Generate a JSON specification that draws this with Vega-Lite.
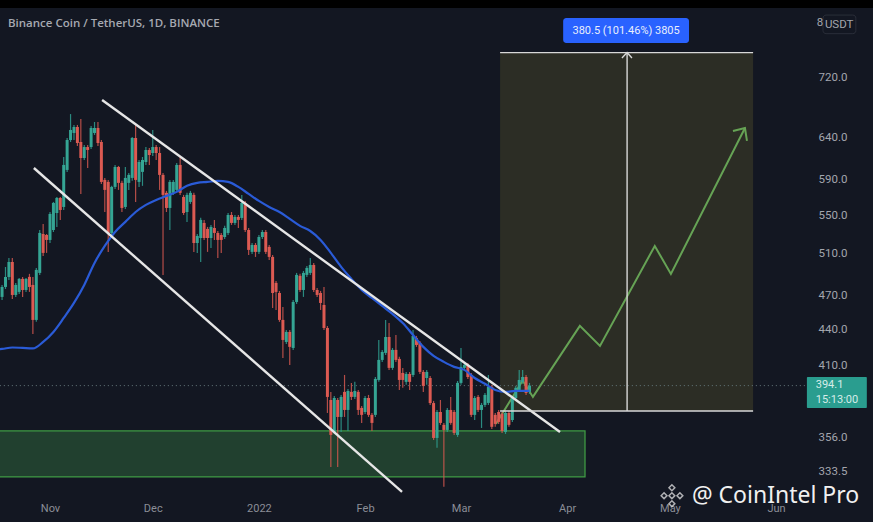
{"$schema":"https://vega.github.io/schema/vega-lite/v6.json","width":873,"height":522,"padding":0,"autosize":{"type":"fit","contains":"padding"},"background":"#131722","title":{"text":"Binance Coin / TetherUS, 1D, BINANCE","anchor":"start","frame":"group","offset":-29,"dx":8,"font":"Open Sans","fontSize":11.5,"fontWeight":600,"color":"#a6a9b1"},"config":{"view":{"stroke":null},"axis":{"grid":false,"domain":false,"ticks":false,"title":null}},
"datasets":{
"candles":[
{"date":"2021-10-18","open":468.7,"high":479.8,"low":465.9,"close":477.9},
{"date":"2021-10-19","open":477.9,"high":496.9,"low":476,"close":487.3},
{"date":"2021-10-20","open":487.4,"high":505.8,"low":484.5,"close":501.8},
{"date":"2021-10-21","open":501.8,"high":505.8,"low":466.8,"close":470.5},
{"date":"2021-10-22","open":470.5,"high":481.7,"low":468.7,"close":479.8},
{"date":"2021-10-23","open":473.3,"high":486.4,"low":471.4,"close":485.5},
{"date":"2021-10-24","open":485.5,"high":487.4,"low":468.7,"close":475.1},
{"date":"2021-10-25","open":475.1,"high":486.4,"low":473.3,"close":485.5},
{"date":"2021-10-26","open":487.4,"high":490.3,"low":473.3,"close":477.9},
{"date":"2021-10-27","open":479.8,"high":487.4,"low":436,"close":448.1},
{"date":"2021-10-28","open":448.1,"high":496,"low":446.4,"close":494.1},
{"date":"2021-10-29","open":491.2,"high":534.2,"low":489.3,"close":531.1},
{"date":"2021-10-30","open":530,"high":540.6,"low":507.8,"close":510.8},
{"date":"2021-10-31","open":529,"high":530,"low":510.8,"close":523.9},
{"date":"2021-11-01","open":523.9,"high":553.3,"low":520.8,"close":551.2},
{"date":"2021-11-02","open":534.2,"high":564.3,"low":532.1,"close":563.2},
{"date":"2021-11-03","open":552.2,"high":569.8,"low":537.4,"close":568.7},
{"date":"2021-11-04","open":568.7,"high":569.8,"low":544.8,"close":555.5},
{"date":"2021-11-05","open":558.8,"high":616.1,"low":555.5,"close":606.6},
{"date":"2021-11-06","open":600.7,"high":639.4,"low":598.4,"close":636.9},
{"date":"2021-11-07","open":636.9,"high":670,"low":634.4,"close":649.5},
{"date":"2021-11-08","open":645.7,"high":655.9,"low":636.9,"close":653.3},
{"date":"2021-11-09","open":653.3,"high":655.9,"low":629.5,"close":633.2},
{"date":"2021-11-10","open":634.4,"high":663.6,"low":573.2,"close":614.9},
{"date":"2021-11-11","open":614.9,"high":630.7,"low":612.5,"close":628.2},
{"date":"2021-11-12","open":628.2,"high":630.7,"low":603,"close":624.6},
{"date":"2021-11-13","open":628.2,"high":654.6,"low":625.8,"close":652},
{"date":"2021-11-14","open":645.7,"high":659.7,"low":643.2,"close":652},
{"date":"2021-11-15","open":652,"high":659.7,"low":629.5,"close":633.2},
{"date":"2021-11-16","open":634.4,"high":636.9,"low":584.5,"close":586.8},
{"date":"2021-11-17","open":589.1,"high":591.4,"low":553.3,"close":577.7},
{"date":"2021-11-18","open":586.8,"high":589.1,"low":511.8,"close":531.1},
{"date":"2021-11-19","open":531.1,"high":582.3,"low":529,"close":581.1},
{"date":"2021-11-20","open":581.1,"high":606.6,"low":578.8,"close":604.2},
{"date":"2021-11-21","open":604.2,"high":605.4,"low":577.7,"close":585.7},
{"date":"2021-11-22","open":585.7,"high":588,"low":553.3,"close":557.7},
{"date":"2021-11-23","open":558.8,"high":604.2,"low":556.6,"close":591.4},
{"date":"2021-11-24","open":585.7,"high":597.2,"low":577.7,"close":594.9},
{"date":"2021-11-25","open":591.4,"high":640.7,"low":588,"close":639.4},
{"date":"2021-11-26","open":639.4,"high":657.2,"low":564.3,"close":589.1},
{"date":"2021-11-27","open":586.8,"high":612.5,"low":581.1,"close":610.1},
{"date":"2021-11-28","open":598.4,"high":616.1,"low":582.3,"close":612.5},
{"date":"2021-11-29","open":610.1,"high":628.2,"low":606.6,"close":624.6},
{"date":"2021-11-30","open":624.6,"high":627,"low":606.6,"close":618.5},
{"date":"2021-12-01","open":620.9,"high":649.5,"low":617.3,"close":628.2},
{"date":"2021-12-02","open":628.2,"high":630.7,"low":612.5,"close":620.9},
{"date":"2021-12-03","open":620.9,"high":628.2,"low":577.7,"close":594.9},
{"date":"2021-12-04","open":594.9,"high":597.2,"low":489.3,"close":572.1},
{"date":"2021-12-05","open":574.4,"high":576.6,"low":553.3,"close":557.7},
{"date":"2021-12-06","open":557.7,"high":589.1,"low":534.2,"close":586.8},
{"date":"2021-12-07","open":574.4,"high":589.1,"low":572.1,"close":586.8},
{"date":"2021-12-08","open":577.7,"high":609,"low":575.5,"close":606.6},
{"date":"2021-12-09","open":606.6,"high":616.1,"low":572.1,"close":574.4},
{"date":"2021-12-10","open":569.8,"high":572.1,"low":550.1,"close":552.2},
{"date":"2021-12-11","open":553.3,"high":574.4,"low":542.7,"close":572.1},
{"date":"2021-12-12","open":564.3,"high":576.6,"low":562.1,"close":574.4},
{"date":"2021-12-13","open":572.1,"high":574.4,"low":511.8,"close":520.8},
{"date":"2021-12-14","open":520.8,"high":530,"low":510.8,"close":528},
{"date":"2021-12-15","open":525.9,"high":547,"low":501.8,"close":544.8},
{"date":"2021-12-16","open":541.6,"high":544.8,"low":523.9,"close":525.9},
{"date":"2021-12-17","open":535.3,"high":537.4,"low":511.8,"close":525.9},
{"date":"2021-12-18","open":525.9,"high":539.5,"low":515.8,"close":537.4},
{"date":"2021-12-19","open":536.3,"high":544.8,"low":523.9,"close":531.1},
{"date":"2021-12-20","open":531.1,"high":533.1,"low":505.8,"close":523.9},
{"date":"2021-12-21","open":529,"high":531.1,"low":510.8,"close":523.9},
{"date":"2021-12-22","open":526.9,"high":538.5,"low":524.9,"close":536.3},
{"date":"2021-12-23","open":531.1,"high":552.2,"low":529,"close":550.1},
{"date":"2021-12-24","open":550.1,"high":553.3,"low":539.5,"close":541.6},
{"date":"2021-12-25","open":541.6,"high":550.1,"low":539.5,"close":548},
{"date":"2021-12-26","open":548,"high":550.1,"low":536.3,"close":544.8},
{"date":"2021-12-27","open":546.9,"high":572.1,"low":544.8,"close":563.2},
{"date":"2021-12-28","open":563.2,"high":565.4,"low":532.1,"close":534.2},
{"date":"2021-12-29","open":534.2,"high":536.3,"low":508.8,"close":513.8},
{"date":"2021-12-30","open":511.8,"high":520.8,"low":509.8,"close":518.8},
{"date":"2021-12-31","open":518.8,"high":520.8,"low":506.8,"close":511.8},
{"date":"2022-01-01","open":511.8,"high":529,"low":509.8,"close":526.9},
{"date":"2022-01-02","open":526.9,"high":534.2,"low":524.9,"close":532.1},
{"date":"2022-01-03","open":532.1,"high":534.2,"low":509.8,"close":511.8},
{"date":"2022-01-04","open":516.8,"high":518.8,"low":503.8,"close":506.8},
{"date":"2022-01-05","open":506.8,"high":508.8,"low":458.7,"close":472.3},
{"date":"2022-01-06","open":481.7,"high":483.6,"low":456.9,"close":473.3},
{"date":"2022-01-07","open":472.3,"high":474.2,"low":446.4,"close":448.1},
{"date":"2022-01-08","open":448.1,"high":459.6,"low":416,"close":430.9},
{"date":"2022-01-09","open":429.2,"high":439.4,"low":427.5,"close":437.7},
{"date":"2022-01-10","open":437.7,"high":439.4,"low":410.4,"close":425.1},
{"date":"2022-01-11","open":424.2,"high":465.9,"low":422.6,"close":464.1},
{"date":"2022-01-12","open":464.1,"high":491.2,"low":462.3,"close":489.3},
{"date":"2022-01-13","open":488.4,"high":490.3,"low":473.3,"close":475.1},
{"date":"2022-01-14","open":475.1,"high":493.1,"low":468.7,"close":491.2},
{"date":"2022-01-15","open":489.3,"high":497.9,"low":487.4,"close":496},
{"date":"2022-01-16","open":491.2,"high":505.8,"low":489.3,"close":498.9},
{"date":"2022-01-17","open":498.9,"high":500.9,"low":473.3,"close":475.1},
{"date":"2022-01-18","open":475.1,"high":477,"low":468.7,"close":470.5},
{"date":"2022-01-19","open":472.3,"high":474.2,"low":456.9,"close":463.2},
{"date":"2022-01-20","open":461.4,"high":477.9,"low":439.4,"close":441.1},
{"date":"2022-01-21","open":441.1,"high":442.8,"low":373.6,"close":385.5},
{"date":"2022-01-22","open":383.2,"high":389.3,"low":336.2,"close":357.9},
{"date":"2022-01-23","open":360,"high":386.2,"low":358.6,"close":384.7},
{"date":"2022-01-24","open":383.2,"high":384.7,"low":336.2,"close":370.7},
{"date":"2022-01-25","open":370.7,"high":387,"low":360,"close":385.5},
{"date":"2022-01-26","open":389.3,"high":402.4,"low":370.7,"close":375.8},
{"date":"2022-01-27","open":375.8,"high":391.6,"low":360.7,"close":390},
{"date":"2022-01-28","open":389.3,"high":396.2,"low":383.2,"close":385.5},
{"date":"2022-01-29","open":385.5,"high":397,"low":384,"close":390},
{"date":"2022-01-30","open":389.3,"high":390.8,"low":372.2,"close":375.8},
{"date":"2022-01-31","open":377.3,"high":378.8,"low":366.4,"close":372.2},
{"date":"2022-02-01","open":374.3,"high":386.2,"low":372.9,"close":384.7},
{"date":"2022-02-02","open":384.7,"high":387,"low":370.7,"close":372.2},
{"date":"2022-02-03","open":372.2,"high":373.6,"low":360.7,"close":366.4},
{"date":"2022-02-04","open":372.2,"high":400.8,"low":370.7,"close":399.3},
{"date":"2022-02-05","open":398.5,"high":430.9,"low":397,"close":414.4},
{"date":"2022-02-06","open":414.4,"high":422.6,"low":412.8,"close":420.9},
{"date":"2022-02-07","open":420.1,"high":448.1,"low":418.5,"close":433.4},
{"date":"2022-02-08","open":433.4,"high":445.4,"low":406.4,"close":408},
{"date":"2022-02-09","open":408,"high":424.2,"low":406.4,"close":422.6},
{"date":"2022-02-10","open":422.6,"high":435.1,"low":412.8,"close":414.4},
{"date":"2022-02-11","open":415.2,"high":416.9,"low":390.8,"close":398.5},
{"date":"2022-02-12","open":404,"high":408,"low":392.4,"close":398.5},
{"date":"2022-02-13","open":397,"high":404.8,"low":394.7,"close":403.2},
{"date":"2022-02-14","open":403.2,"high":404.8,"low":390.8,"close":397},
{"date":"2022-02-15","open":402.4,"high":439.4,"low":400.8,"close":434.3},
{"date":"2022-02-16","open":432.6,"high":434.3,"low":425.1,"close":426.7},
{"date":"2022-02-17","open":428.4,"high":430.1,"low":403.2,"close":404.8},
{"date":"2022-02-18","open":404.8,"high":406.4,"low":389.3,"close":393.9},
{"date":"2022-02-19","open":400,"high":406.4,"low":394.7,"close":404.8},
{"date":"2022-02-20","open":400,"high":401.6,"low":379.5,"close":380.9},
{"date":"2022-02-21","open":380.9,"high":382.5,"low":354.4,"close":355.8},
{"date":"2022-02-22","open":355.8,"high":375.8,"low":349,"close":374.3},
{"date":"2022-02-23","open":374.3,"high":383.2,"low":365,"close":366.4},
{"date":"2022-02-24","open":365,"high":366.4,"low":323.5,"close":361.4},
{"date":"2022-02-25","open":361.4,"high":377.3,"low":360,"close":375.8},
{"date":"2022-02-26","open":375.8,"high":385.5,"low":365,"close":366.4},
{"date":"2022-02-27","open":374.3,"high":375.8,"low":357.9,"close":359.3},
{"date":"2022-02-28","open":357.9,"high":397.7,"low":356.5,"close":396.2},
{"date":"2022-03-01","open":396.2,"high":424.2,"low":394.7,"close":408.8},
{"date":"2022-03-02","open":408,"high":412,"low":406.4,"close":410.4},
{"date":"2022-03-03","open":410.4,"high":412,"low":399.3,"close":400.8},
{"date":"2022-03-04","open":402.4,"high":404,"low":370.7,"close":372.2},
{"date":"2022-03-05","open":372.2,"high":386.2,"low":368.5,"close":384.7},
{"date":"2022-03-06","open":385.5,"high":387,"low":374.3,"close":375.8},
{"date":"2022-03-07","open":375.8,"high":381,"low":362.8,"close":379.5},
{"date":"2022-03-08","open":379.5,"high":388.5,"low":378,"close":387},
{"date":"2022-03-09","open":381,"high":402.4,"low":379.5,"close":393.2},
{"date":"2022-03-10","open":393.2,"high":394.7,"low":362,"close":363.6},
{"date":"2022-03-11","open":372.2,"high":373.6,"low":363.6,"close":365.7},
{"date":"2022-03-12","open":374.3,"high":375.8,"low":365.7,"close":367.1},
{"date":"2022-03-13","open":372.9,"high":374.3,"low":359.3,"close":360.7},
{"date":"2022-03-14","open":360,"high":375,"low":358.6,"close":373.6},
{"date":"2022-03-15","open":373.6,"high":375,"low":363.6,"close":365},
{"date":"2022-03-16","open":368.5,"high":386.2,"low":367.1,"close":384.7},
{"date":"2022-03-17","open":384.7,"high":393.9,"low":383.2,"close":392.4},
{"date":"2022-03-18","open":390.8,"high":406.4,"low":389.3,"close":398.5},
{"date":"2022-03-19","open":397,"high":406.4,"low":395.5,"close":400.8},
{"date":"2022-03-20","open":400.8,"high":402.4,"low":387,"close":388.5},
{"date":"2022-03-21","open":389.3,"high":396.2,"low":387.8,"close":394.1}
],
"ma":[
{"date":"2021-10-15","price":423},{"date":"2021-10-18","price":423.4},{"date":"2021-10-21","price":424.6},{"date":"2021-10-24","price":424.2},{"date":"2021-10-27","price":423.8},{"date":"2021-10-30","price":429.2},{"date":"2021-11-02","price":437.7},{"date":"2021-11-05","price":449.8},{"date":"2021-11-08","price":463.2},{"date":"2021-11-11","price":479.8},{"date":"2021-11-14","price":500.9},{"date":"2021-11-17","price":517.8},{"date":"2021-11-20","price":532.1},{"date":"2021-11-23","price":542.7},{"date":"2021-11-26","price":553.3},{"date":"2021-11-29","price":561},{"date":"2021-12-02","price":566.5},{"date":"2021-12-05","price":571},{"date":"2021-12-08","price":575.5},{"date":"2021-12-11","price":582.3},{"date":"2021-12-14","price":585.7},{"date":"2021-12-17","price":586.8},{"date":"2021-12-20","price":588},{"date":"2021-12-23","price":586.8},{"date":"2021-12-26","price":581.1},{"date":"2021-12-29","price":573.2},{"date":"2022-01-01","price":565.4},{"date":"2022-01-04","price":558.8},{"date":"2022-01-07","price":553.3},{"date":"2022-01-10","price":545.9},{"date":"2022-01-13","price":538.5},{"date":"2022-01-16","price":533.1},{"date":"2022-01-19","price":523.9},{"date":"2022-01-22","price":510.8},{"date":"2022-01-25","price":497},{"date":"2022-01-28","price":485.5},{"date":"2022-01-31","price":475.1},{"date":"2022-02-03","price":467.7},{"date":"2022-02-06","price":460.5},{"date":"2022-02-09","price":453.4},{"date":"2022-02-12","price":445.4},{"date":"2022-02-15","price":435.1},{"date":"2022-02-18","price":425.1},{"date":"2022-02-21","price":417.7},{"date":"2022-02-24","price":412.8},{"date":"2022-02-27","price":408.8},{"date":"2022-03-02","price":406.4},{"date":"2022-03-05","price":400},{"date":"2022-03-08","price":395.5},{"date":"2022-03-11","price":390.8},{"date":"2022-03-14","price":389.3},{"date":"2022-03-17","price":390},{"date":"2022-03-21","price":390}
],
"channel":[
{"id":"upper","date":"2021-11-16T05:00:00Z","price":688.7},{"id":"upper","date":"2022-03-29T22:00:00Z","price":360},
{"id":"lower","date":"2021-10-27T07:00:00Z","price":603},{"id":"lower","date":"2022-02-11T19:00:00Z","price":320.2}
],
"forecast":[
{"id":"path","date":"2022-03-11T05:00:00Z","price":365.7},{"id":"path","date":"2022-03-19T00:00:00Z","price":398},{"id":"path","date":"2022-03-22T00:00:00Z","price":385.5},{"id":"path","date":"2022-04-04T17:00:00Z","price":442.9},{"id":"path","date":"2022-04-10T14:00:00Z","price":425.9},{"id":"path","date":"2022-04-26T14:00:00Z","price":517.8},{"id":"path","date":"2022-05-01T07:00:00Z","price":490.2},{"id":"path","date":"2022-05-22T22:00:00Z","price":652},
{"id":"head","date":"2022-05-19T10:00:00Z","price":648.2},{"id":"head","date":"2022-05-22T22:00:00Z","price":652},{"id":"head","date":"2022-05-23T12:00:00Z","price":635.7}
],
"measure":[
{"id":"shaft","date":"2022-04-18T12:00:00Z","price":375},{"id":"shaft","date":"2022-04-18T12:00:00Z","price":755.5},
{"id":"head","date":"2022-04-17T00:00:00Z","price":747.6},{"id":"head","date":"2022-04-18T12:00:00Z","price":755.5},{"id":"head","date":"2022-04-19T22:00:00Z","price":747.6},
{"id":"top","date":"2022-03-12T10:00:00Z","price":755.5},{"id":"top","date":"2022-05-25T07:00:00Z","price":755.5},
{"id":"bottom","date":"2022-03-12T10:00:00Z","price":375},{"id":"bottom","date":"2022-05-25T07:00:00Z","price":375}
],
"logo":[
{"date":"2022-05-01T14:00:00Z","price":317.8},{"date":"2022-04-29T07:00:00Z","price":317.8},{"date":"2022-05-03T22:00:00Z","price":317.8},{"date":"2022-05-01T14:00:00Z","price":322.8},{"date":"2022-05-01T14:00:00Z","price":312.9}
]
},
"layer":[
{"data":{"values":[{"date":"2021-10-01","date2":"2022-07-10","price":900,"price2":824.3}]},"mark":{"type":"rect","color":"#000000","clip":true},
"encoding":{"x":{"field":"date","type":"temporal","scale":{"type":"utc","domain":[1634463360000,1656486720000],"padding":0},"axis":{"values":[1635724800000,1638316800000,1640995200000,1643673600000,1646092800000,1648771200000,1651363200000,1654041600000],"labelExpr":"utcmonth(datum.value)==0?'2022':utcFormat(datum.value,'%b')","labelPadding":-14,"labelBaseline":"middle","labelColor":"#8b8e97","labelFont":"Roboto","labelFontSize":11,"labelBound":false,"labelFlush":false,"labelOverlap":false}},"x2":{"field":"date2"},
"y":{"field":"price","type":"quantitative","scale":{"type":"log","domain":[301.9,837.3],"nice":false,"zero":false},"axis":{"orient":"right","values":[333.5,356,410,440,470,510,550,590,640,720],"format":".1f","labelPadding":-55,"labelAlign":"left","labelColor":"#a3a6ae","labelFont":"Roboto","labelFontSize":11.5,"labelBound":false,"labelFlush":false,"labelOverlap":false}},"y2":{"field":"price2"}}},
{"data":{"values":[{"date":"2021-10-01","date2":"2022-04-06T05:00:00Z","price":329.7,"price2":360.7}]},"mark":{"type":"rect","fill":"#21402f","stroke":"#3f9a44","strokeWidth":1.3,"clip":true},
"encoding":{"x":{"field":"date","type":"temporal"},"x2":{"field":"date2"},"y":{"field":"price","type":"quantitative"},"y2":{"field":"price2"}}},
{"data":{"values":[{"date":"2022-03-12T10:00:00Z","date2":"2022-05-25T07:00:00Z","price":375,"price2":755.5}]},"mark":{"type":"rect","fill":"#2c2d25"},
"encoding":{"x":{"field":"date","type":"temporal"},"x2":{"field":"date2"},"y":{"field":"price","type":"quantitative"},"y2":{"field":"price2"}}},
{"data":{"values":[{"date":"2021-10-01","date2":"2022-06-10T00:00:00Z","price":394.1}]},"mark":{"type":"rule","color":"#66787c","strokeDash":[1,3],"strokeWidth":1,"clip":true},
"encoding":{"x":{"field":"date","type":"temporal"},"x2":{"field":"date2"},"y":{"field":"price","type":"quantitative"}}},
{"data":{"name":"forecast"},"mark":{"type":"line","color":"#66a355","strokeWidth":2,"strokeJoin":"miter"},
"encoding":{"x":{"field":"date","type":"temporal"},"y":{"field":"price","type":"quantitative"},"detail":{"field":"id"}}},
{"data":{"name":"candles"},"mark":{"type":"rule","strokeWidth":1.2,"opacity":0.85},
"encoding":{"x":{"field":"date","type":"temporal"},"y":{"field":"high","type":"quantitative"},"y2":{"field":"low"},"color":{"condition":{"test":"datum.close>=datum.open","value":"#2f9f90"},"value":"#d2574f"}}},
{"data":{"name":"candles"},"mark":{"type":"bar","size":3},
"encoding":{"x":{"field":"date","type":"temporal"},"y":{"field":"open","type":"quantitative"},"y2":{"field":"close"},"color":{"condition":{"test":"datum.close>=datum.open","value":"#35a594"},"value":"#dc5a52"}}},
{"data":{"name":"ma"},"mark":{"type":"line","color":"#2a5bd7","strokeWidth":2.2,"interpolate":"monotone","clip":true},
"encoding":{"x":{"field":"date","type":"temporal"},"y":{"field":"price","type":"quantitative"}}},
{"data":{"name":"channel"},"mark":{"type":"line","color":"#e6e6e6","strokeWidth":2.4},
"encoding":{"x":{"field":"date","type":"temporal"},"y":{"field":"price","type":"quantitative"},"detail":{"field":"id"}}},
{"data":{"name":"measure"},"mark":{"type":"line","color":"#d8d8d8","strokeWidth":1.4},
"encoding":{"x":{"field":"date","type":"temporal"},"y":{"field":"price","type":"quantitative"},"detail":{"field":"id"}}},
{"data":{"values":[{"date":"2022-03-30T20:00:00Z","date2":"2022-05-06T14:00:00Z","price":769.9,"price2":808.3}]},"mark":{"type":"rect","fill":"#2962ff","cornerRadius":3},
"encoding":{"x":{"field":"date","type":"temporal"},"x2":{"field":"date2"},"y":{"field":"price","type":"quantitative"},"y2":{"field":"price2"}}},
{"data":{"values":[{"date":"2022-06-10T00:00:00Z","date2":"2022-06-27T12:00:00Z","price":377.3,"price2":400.8}]},"mark":{"type":"rect","fill":"#2a9d8f","cornerRadius":1},
"encoding":{"x":{"field":"date","type":"temporal"},"x2":{"field":"date2"},"y":{"field":"price","type":"quantitative"},"y2":{"field":"price2"}}},
{"data":{"values":[{"date":"2022-06-14T17:00:00Z","date2":"2022-06-24T07:00:00Z","price":784,"price2":813}]},"mark":{"type":"rect","fill":"#131722","stroke":"#2a2e39","strokeWidth":1,"cornerRadius":3},
"encoding":{"x":{"field":"date","type":"temporal"},"x2":{"field":"date2"},"y":{"field":"price","type":"quantitative"},"y2":{"field":"price2"}}},
{"data":{"values":[{"date":"2022-04-18T05:00:00Z","price":788.7,"label":"380.5 (101.46%) 3805"}]},"mark":{"type":"text","color":"#e8eefc","font":"Roboto","fontSize":11,"align":"center","baseline":"middle"},
"encoding":{"x":{"field":"date","type":"temporal"},"y":{"field":"price","type":"quantitative"},"text":{"field":"label"}}},
{"data":{"values":[{"date":"2022-06-12T14:00:00Z","price":394.7,"label":"394.1"},{"date":"2022-06-12T14:00:00Z","price":383.2,"label":"15:13:00"}]},"mark":{"type":"text","color":"#d6ece8","font":"Roboto","fontSize":11,"align":"left","baseline":"middle"},
"encoding":{"x":{"field":"date","type":"temporal"},"y":{"field":"price","type":"quantitative"},"text":{"field":"label"}}},
{"data":{"values":[{"date":"2022-06-19T10:00:00Z","price":797,"label":"USDT"},{"date":"2022-06-13T19:00:00Z","price":800,"label":"8"}]},"mark":{"type":"text","color":"#a3a6ae","font":"Roboto","fontSize":11.5,"align":"center","baseline":"middle"},
"encoding":{"x":{"field":"date","type":"temporal"},"y":{"field":"price","type":"quantitative"},"text":{"field":"label"}}},
{"data":{"name":"logo"},"mark":{"type":"point","shape":"diamond","filled":false,"stroke":"#f2f2f2","strokeWidth":1.5,"size":34},
"encoding":{"x":{"field":"date","type":"temporal"},"y":{"field":"price","type":"quantitative"}}},
{"data":{"values":[{"date":"2022-05-07T10:00:00Z","price":317.8,"label":"@ CoinIntel Pro"}]},"mark":{"type":"text","color":"#f0f0f0","font":"Noto Sans","fontSize":23,"align":"left","baseline":"middle"},
"encoding":{"x":{"field":"date","type":"temporal"},"y":{"field":"price","type":"quantitative"},"text":{"field":"label"}}}
]}
